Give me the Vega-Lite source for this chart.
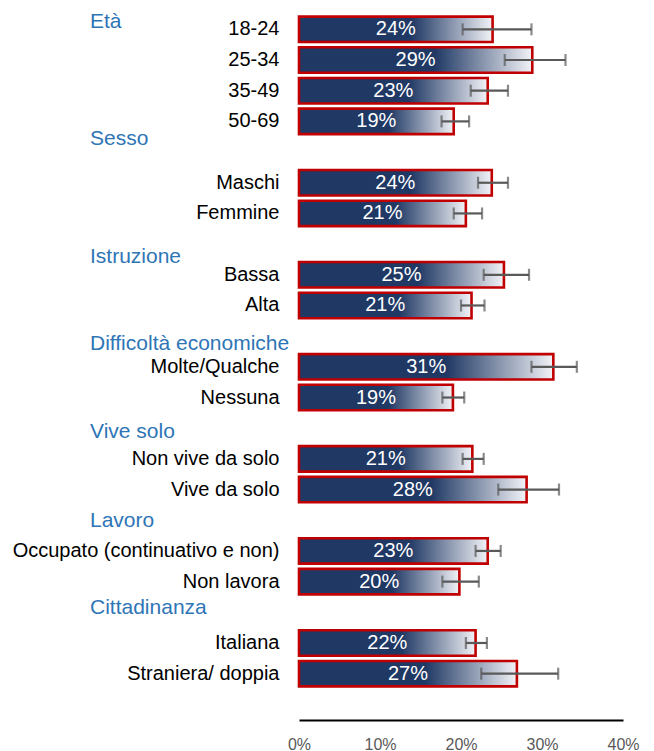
{
  "$schema": "https://vega.github.io/schema/vega-lite/v6.json",
  "width": 324,
  "height": 675,
  "autosize": {"type": "none"},
  "padding": {"left": 299, "top": 14, "right": 31, "bottom": 62},
  "background": "white",
  "config": {"view": {"stroke": null}, "font": "Liberation Sans"},
  "datasets": {
    "rows": [
      {"cat": "18-24", "val": 0.239, "lo": 0.202, "hi": 0.287},
      {"cat": "25-34", "val": 0.288, "lo": 0.254, "hi": 0.329},
      {"cat": "35-49", "val": 0.233, "lo": 0.212, "hi": 0.258},
      {"cat": "50-69", "val": 0.191, "lo": 0.176, "hi": 0.210},
      {"cat": "Maschi", "val": 0.238, "lo": 0.221, "hi": 0.258},
      {"cat": "Femmine", "val": 0.206, "lo": 0.191, "hi": 0.226},
      {"cat": "Bassa", "val": 0.253, "lo": 0.228, "hi": 0.284},
      {"cat": "Alta", "val": 0.213, "lo": 0.200, "hi": 0.229},
      {"cat": "Molte/Qualche", "val": 0.314, "lo": 0.287, "hi": 0.343},
      {"cat": "Nessuna", "val": 0.190, "lo": 0.177, "hi": 0.204},
      {"cat": "Non vive da solo", "val": 0.214, "lo": 0.202, "hi": 0.228},
      {"cat": "Vive da solo", "val": 0.281, "lo": 0.246, "hi": 0.321},
      {"cat": "Occupato (continuativo e non)", "val": 0.233, "lo": 0.218, "hi": 0.249},
      {"cat": "Non lavora", "val": 0.198, "lo": 0.177, "hi": 0.222},
      {"cat": "Italiana", "val": 0.218, "lo": 0.206, "hi": 0.232},
      {"cat": "Straniera/ doppia", "val": 0.269, "lo": 0.225, "hi": 0.320}
    ],
    "heads": [
      {"name": "Età", "pos": -0.23},
      {"name": "Sesso", "pos": 3.58},
      {"name": "Istruzione", "pos": 7.41},
      {"name": "Difficoltà economiche", "pos": 10.25},
      {"name": "Vive solo", "pos": 13.13},
      {"name": "Lavoro", "pos": 16.02},
      {"name": "Cittadinanza", "pos": 18.87}
    ]
  },
  "layer": [
    {
      "data": {"name": "rows"},
      "encoding": {
        "y": {
          "field": "cat",
          "type": "nominal",
          "scale": {
            "domain": ["18-24", "25-34", "35-49", "50-69", " ", "Maschi", "Femmine", "  ", "Bassa", "Alta", "   ", "Molte/Qualche", "Nessuna", "    ", "Non vive da solo", "Vive da solo", "     ", "Occupato (continuativo e non)", "Non lavora", "      ", "Italiana", "Straniera/ doppia"],
            "paddingInner": 0.17,
            "paddingOuter": 0.085
          },
          "axis": {
            "title": null,
            "domain": false,
            "ticks": false,
            "tickSize": 0,
            "labelFontSize": 20,
            "labelColor": "#000000",
            "labelPadding": 20,
            "labelLimit": 400
          }
        }
      },
      "layer": [
        {
          "mark": {
            "type": "bar",
            "fill": {
              "gradient": "linear",
              "x1": 0, "y1": 0, "x2": 1, "y2": 0,
              "stops": [
                {"offset": 0, "color": "#1F3864"},
                {"offset": 0.58, "color": "#1F3864"},
                {"offset": 1, "color": "#F2F3F7"}
              ]
            },
            "stroke": "#C00000",
            "strokeWidth": 2.6
          },
          "encoding": {
            "x": {
              "field": "val",
              "type": "quantitative",
              "scale": {"domain": [0, 0.4]},
              "axis": {
                "title": null,
                "format": ".0%",
                "values": [0, 0.1, 0.2, 0.3, 0.4],
                "grid": false,
                "ticks": false,
                "tickSize": 0,
                "domainColor": "#000000",
                "domainWidth": 2,
                "offset": 31,
                "labelFontSize": 16,
                "labelColor": "#595959",
                "labelPadding": 16,
                "labelFlush": false
              }
            }
          }
        },
        {
          "mark": {"type": "rule", "color": "#595959", "strokeWidth": 2.2},
          "encoding": {
            "x": {"field": "lo", "type": "quantitative"},
            "x2": {"field": "hi"}
          }
        },
        {
          "mark": {"type": "tick", "color": "#595959", "thickness": 2.2, "size": 12},
          "encoding": {"x": {"field": "lo", "type": "quantitative"}}
        },
        {
          "mark": {"type": "tick", "color": "#595959", "thickness": 2.2, "size": 12},
          "encoding": {"x": {"field": "hi", "type": "quantitative"}}
        }
      ]
    },
    {
      "data": {"name": "rows"},
      "mark": {"type": "text", "color": "white", "fontSize": 20, "align": "center", "baseline": "middle"},
      "encoding": {
        "y": {
          "field": "cat",
          "type": "nominal",
          "scale": {
            "domain": ["18-24", "25-34", "35-49", "50-69", " ", "Maschi", "Femmine", "  ", "Bassa", "Alta", "   ", "Molte/Qualche", "Nessuna", "    ", "Non vive da solo", "Vive da solo", "     ", "Occupato (continuativo e non)", "Non lavora", "      ", "Italiana", "Straniera/ doppia"],
            "paddingInner": 0.17,
            "paddingOuter": 0.085
          },
          "axis": null
        },
        "x": {"field": "val", "type": "quantitative", "scale": {"domain": [0, 0.8]}, "axis": null},
        "text": {"field": "val", "type": "quantitative", "format": ".0%"}
      }
    },
    {
      "data": {"name": "heads"},
      "mark": {"type": "text", "align": "left", "baseline": "middle", "dx": -209, "fontSize": 21, "color": "#2E75B6"},
      "encoding": {
        "y": {"field": "pos", "type": "quantitative", "scale": {"domain": [-0.5, 21.5], "reverse": true, "nice": false, "zero": false}, "axis": null},
        "x": {"datum": 0, "type": "quantitative", "scale": {"domain": [0, 0.4]}, "axis": null},
        "text": {"field": "name"}
      }
    }
  ],
  "resolve": {"scale": {"x": "independent", "y": "independent"}}
}
